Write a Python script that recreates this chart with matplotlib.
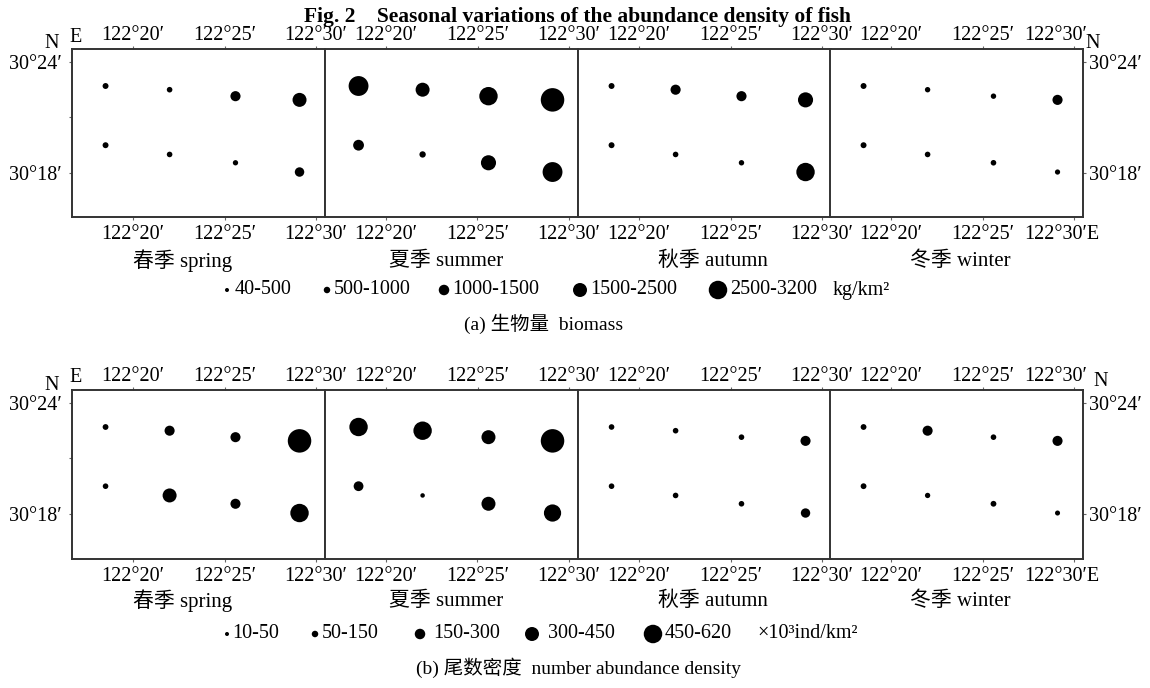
import matplotlib.pyplot as plt
import matplotlib.transforms as mtransforms
import numpy as np

plt.rcParams['font.family'] = ['Liberation Serif', 'Noto Sans CJK SC', 'DejaVu Sans']

W, H = 1150, 688

# estaciones (minutos sobre 122°E y 30°N), fila norte y fila sur
station_lon = [18.5, 22.0, 25.6, 29.1, 18.5, 22.0, 25.6, 29.1]
station_lat = [22.7, 22.5, 22.15, 21.95, 19.5, 19.0, 18.55, 18.05]

season_cn = ['春季', '夏季', '秋季', '冬季']
season_en = ['spring', 'summer', 'autumn', 'winter']

lon_ticks = [20, 25, 30]
lon_labels = ['122°20′', '122°25′', '122°30′']
lat_ticks = [24, 18]
lat_labels = ['30°24′', '30°18′']

# (a) biomasa, kg/km2
biomass_spring = [540, 500, 1040, 1500, 540, 500, 440, 960]
biomass_summer = [2700, 1500, 2500, 3200, 1120, 590, 1750, 2700]
biomass_autumn = [540, 1040, 1040, 1750, 540, 500, 460, 2500]
biomass_winter = [540, 460, 460, 1040, 540, 500, 500, 420]
biomass_classes = ['40-500', '500-1000', '1000-1500', '1500-2500', '2500-3200']
biomass_edges = [40, 500, 1000, 1500, 2500, 3200]

# (b) densidad numerica, x10^3 ind/km2
density_spring = [55, 160, 160, 620, 50, 300, 160, 450]
density_summer = [450, 450, 300, 620, 150, 30, 300, 410]
density_autumn = [50, 50, 50, 160, 50, 50, 50, 140]
density_winter = [55, 160, 50, 160, 55, 45, 55, 40]
density_classes = ['10-50', '50-150', '150-300', '300-450', '450-620']
density_edges = [10, 50, 150, 300, 450, 620]

# estilo / geometria (pixeles)
dot_diam = [3.4, 5.6, 9.8, 14, 18.4, 23.5]
legend_diam = [4, 6.5, 10.5, 14, 18.5]
panel_left = [72, 325, 578, 830]
panel_w = 253
PX_MIN = 18.3
FS = 14.5


def pos(x, y, w, h):
    return [x / W, 1 - (y + h) / H, w / W, h / H]


def area(d):
    return (np.asarray(d) * 0.72) ** 2


def dibujar_fila(fig, series, edges, top, alto):
    for i, vals in enumerate(series):
        ax = fig.add_axes(pos(panel_left[i], top, panel_w, alto))
        d = np.interp(vals, edges, dot_diam)
        ax.scatter(station_lon, station_lat, s=area(d), c='black',
                   edgecolors='none', zorder=3, clip_on=False)
        ax.set_xlim(20 - 61 / PX_MIN, 20 - 61 / PX_MIN + panel_w / PX_MIN)
        ax.set_ylim(24.70 - alto / 18.5, 24.70)
        for sp in ax.spines.values():
            sp.set_color('#333333')
            sp.set_linewidth(1.4)

        bottom_labels = list(lon_labels)
        if i == 3:
            bottom_labels[2] = '122°30′E'
        ax.set_xticks(lon_ticks)
        ax.set_xticklabels(bottom_labels)
        ax.tick_params(axis='x', direction='out', length=2.5, width=0.8,
                       color='#666666', labelsize=FS, pad=3.5)

        sec = ax.secondary_xaxis('top')
        sec.set_xticks(lon_ticks)
        sec.set_xticklabels(lon_labels)
        sec.tick_params(axis='x', direction='out', length=2.5, width=0.8,
                        color='#666666', labelsize=FS, pad=0.5)
        for sp in sec.spines.values():
            sp.set_visible(False)

        if i == 0:
            ax.set_yticks(lat_ticks)
            ax.set_yticklabels(lat_labels)
            ax.set_yticks([21], minor=True)
            ax.tick_params(axis='y', which='both', direction='out', length=2.5,
                           width=0.8, color='#666666', labelsize=FS, pad=5)
        elif i == 3:
            ax.yaxis.tick_right()
            ax.set_yticks(lat_ticks)
            ax.set_yticklabels(lat_labels)
            ax.tick_params(axis='y', direction='out', length=2.5, width=0.8,
                           color='#666666', labelsize=FS, pad=1.5)
        else:
            ax.set_yticks([])

        if i == 3:
            off = mtransforms.ScaledTranslation(-0.50, 0, fig.dpi_scale_trans)
            lb = ax.xaxis.get_major_ticks()[2].label1
            lb.set_horizontalalignment('left')
            lb.set_transform(lb.get_transform() + off)
            for lt in (sec.xaxis.get_major_ticks()[2].label1,
                       sec.xaxis.get_major_ticks()[2].label2):
                lt.set_horizontalalignment('left')
                lt.set_transform(lt.get_transform() + off)


def leyenda(ov, y, clases, dots_x, text_x, unidad, unidad_x):
    ov.scatter(dots_x, [y] * len(dots_x), s=area(legend_diam), c='black',
               edgecolors='none', clip_on=False)
    for lab, tx in zip(clases, text_x):
        ov.text(tx, y, lab, ha='left', va='center', fontsize=FS)
    ov.text(unidad_x, y, unidad, ha='left', va='center', fontsize=FS)


fig = plt.figure(figsize=(11.5, 6.88), dpi=100)
ov = fig.add_axes([0, 0, 1, 1], zorder=-1)
ov.set_xlim(0, W)
ov.set_ylim(H, 0)
ov.axis('off')

ov.text(577, 22, 'Fig. 2    Seasonal variations of the abundance density of fish',
        ha='center', va='baseline', fontsize=15.5, fontweight='bold')

dibujar_fila(fig, [biomass_spring, biomass_summer, biomass_autumn, biomass_winter],
             biomass_edges, 49, 168)
dibujar_fila(fig, [density_spring, density_summer, density_autumn, density_winter],
             density_edges, 390, 169)

# letras N / E de las esquinas
for (x, y, t) in [(52, 43, 'N'), (76, 38, 'E'), (1093, 44, 'N'),
                  (52, 385, 'N'), (76, 378, 'E'), (1101, 382, 'N')]:
    ov.text(x, y, t, ha='center', va='center', fontsize=FS)

season_x = [183, 446, 713, 960]
for cn, en, x in zip(season_cn, season_en, season_x):
    ov.text(x, 261, f'{cn} {en}', ha='center', va='center', fontsize=15)
    ov.text(x, 601, f'{cn} {en}', ha='center', va='center', fontsize=15)

leyenda(ov, 290, biomass_classes, [227, 327, 444, 580, 718],
        [235, 334, 452, 590, 730], 'kg/km²', 833)
leyenda(ov, 634, density_classes, [227, 315, 420, 532, 653],
        [232, 322, 433, 548, 665], '×10³ind/km²', 757)

ov.text(544, 324, '(a) 生物量  biomass', ha='center', va='center', fontsize=14)
ov.text(578, 668, '(b) 尾数密度  number abundance density', ha='center', va='center', fontsize=14)

plt.savefig('out.png', dpi=100)
